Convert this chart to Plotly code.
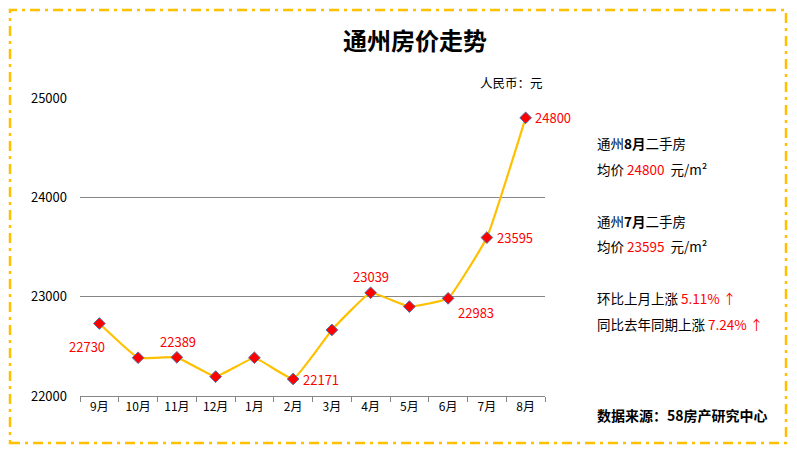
import plotly.graph_objects as go

months = ['9月', '10月', '11月', '12月', '1月', '2月', '3月', '4月', '5月', '6月', '7月', '8月']
prices = [22730, 22385, 22389, 22195, 22385, 22171, 22665, 23039, 22900, 22983, 23595, 24800]

# which points carry a red value label
label_idx = [0, 2, 5, 7, 9, 10, 11]

mom_rise = '5.11%'
yoy_rise = '7.24%'
source = '数据来源：58房产研究中心'

FONT = 'Noto Sans CJK SC, Microsoft YaHei, sans-serif'
L, R, T, B = 80, 545, 98, 396  # plot area in px

# label placement: (xanchor, xshift, yshift) per labelled point
label_place = {
    0: ('center', -12, -23),
    2: ('center', 1, 16),
    5: ('left', 8, 0),
    7: ('center', 0, 16),
    9: ('left', 8, -14),
    10: ('left', 8, 0),
    11: ('left', 7, 0),
}


def px(x):
    return (x - L) / (R - L)


def py(y):
    return (B - y) / (B - T)


fig = go.Figure()
fig.add_trace(go.Scatter(
    x=months, y=prices, mode='lines+markers',
    line=dict(color='#FFC000', width=2.2, shape='spline', smoothing=0.3),
    marker=dict(symbol='diamond', size=9, color='#FF0000', line=dict(color='#4F6FA8', width=1)),
    hoverinfo='x+y'))

ann = []
for i in label_idx:
    xa, xs, ys = label_place[i]
    ann.append(dict(x=months[i], y=prices[i], text=str(prices[i]), xanchor=xa, yanchor='middle',
                    xshift=xs, yshift=ys, showarrow=False,
                    font=dict(size=13, color='#FF0000')))

ann.append(dict(x=px(545), y=py(82), text='人民币：元', xanchor='right', yanchor='middle',
                xref='paper', yref='paper', showarrow=False, font=dict(size=12.5, color='#000')))
right_lines = [
    (143, '通州<b>8月</b>二手房', 13.5),
    (169, '均价 <span style="color:#FF0000">%d</span>  元/m²' % prices[-1], 13.5),
    (221, '通州<b>7月</b>二手房', 13.5),
    (246, '均价 <span style="color:#FF0000">%d</span>  元/m²' % prices[-2], 13.5),
    (298, '环比上月上涨 <span style="color:#FF0000">%s ↑</span>' % mom_rise, 13.5),
    (324, '同比去年同期上涨 <span style="color:#FF0000">%s ↑</span>' % yoy_rise, 13.5),
    (415, '<b>%s</b>' % source, 14),
]
for yy, t, sz in right_lines:
    ann.append(dict(x=px(595), y=py(yy), text=t, xanchor='left', yanchor='middle',
                    xref='paper', yref='paper', showarrow=False, font=dict(size=sz, color='#000')))

fig.update_layout(
    width=797, height=453,
    margin=dict(l=L, r=797 - R, t=T, b=453 - B),
    paper_bgcolor='white', plot_bgcolor='white',
    showlegend=False,
    font=dict(family=FONT, size=13, color='#000'),
    title=dict(text='<b>通州房价走势</b>', x=415 / 797, y=1 - 42 / 453, xanchor='center', yanchor='middle',
               font=dict(size=24, color='#000')),
    xaxis=dict(type='category', showgrid=False, showline=True, linecolor='#868686', linewidth=1,
               ticks='outside', tickson='boundaries', ticklen=5, tickcolor='#868686',
               tickfont=dict(size=12, color='#000'), range=[-0.5, 11.5]),
    yaxis=dict(range=[22000, 25000], dtick=1000, tickformat='d', showgrid=True, gridcolor='#868686',
               gridwidth=1, zeroline=False, showline=False, tickfont=dict(size=13, color='#000'),
               ticklabelstandoff=12),
    annotations=ann,
    shapes=[dict(type='rect', xref='paper', yref='paper',
                 x0=px(10), x1=px(786), y0=py(443), y1=py(10),
                 line=dict(color='#FFC000', width=2.5, dash='10px,5px,3px,5px'))],
)

fig.write_html('out.html', config={'displayModeBar': False},
               post_script="document.body.style.margin='0';")
